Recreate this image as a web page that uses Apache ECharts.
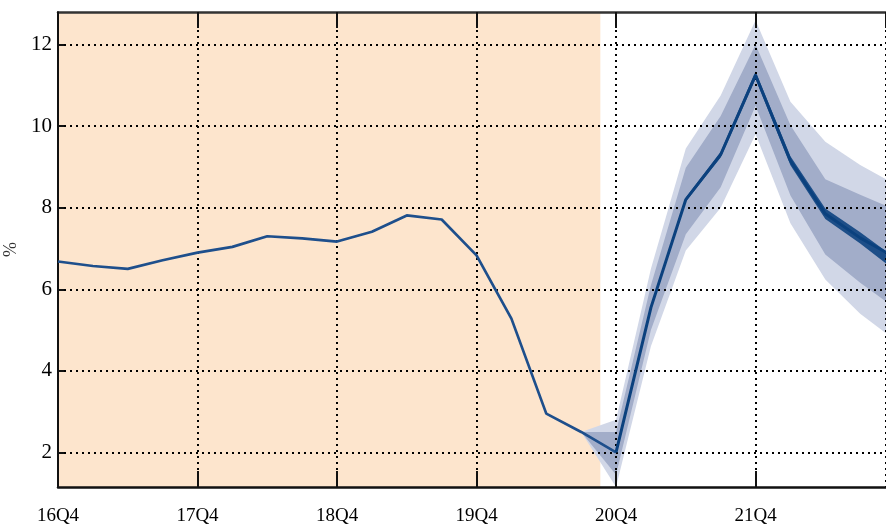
<!DOCTYPE html>
<html>
<head>
<meta charset="utf-8">
<script src="https://cdn.jsdelivr.net/npm/echarts@6/dist/echarts.min.js"></script>
<style>html,body{margin:0;padding:0;background:#fff}#c{width:886px;height:530px}</style>
</head>
<body>
<div id="c"></div>
<script>
// Quarters (x index = position in this list)
const quarters = ['16Q4','17Q1','17Q2','17Q3','17Q4','18Q1','18Q2','18Q3','18Q4','19Q1','19Q2','19Q3','19Q4','20Q1','20Q2','20Q3','20Q4','21Q1','21Q2','21Q3','21Q4','22Q1','22Q2','22Q3','22Q4'];
const xTickLabels = ['16Q4','17Q4','18Q4','19Q4','20Q4','21Q4'];
const yTickValues = [2,4,6,8,10,12];

// Historical series (16Q4 .. 20Q4)
const history = [6.68,6.57,6.5,6.71,6.9,7.04,7.3,7.25,7.17,7.41,7.81,7.71,6.83,5.28,2.95,2.5,2.0];

// Forecast fan (20Q3 .. 22Q4)
const fanQuarters = ['20Q3','20Q4','21Q1','21Q2','21Q3','21Q4','22Q1','22Q2','22Q3','22Q4'];
const central   = [2.5, 2.0, 5.55, 8.2, 9.3, 11.25, 9.15, 7.85, 7.26, 6.78];
const innerHigh = [2.5, 2.0, 5.57, 8.25, 9.37, 11.34, 9.26, 7.98, 7.40, 6.93];
const innerLow  = [2.5, 2.0, 5.53, 8.15, 9.23, 11.16, 9.04, 7.72, 7.12, 6.63];
const midHigh   = [2.5, 2.5, 6.1, 8.98, 10.25, 12.0, 10.02, 8.7, 8.32, 8.05];
const midLow    = [2.5, 1.45, 5.0, 7.35, 8.5, 10.5, 8.3, 6.85, 6.16, 5.7];
const outerHigh = [2.5, 2.8, 6.5, 9.45, 10.75, 12.6, 10.6, 9.62, 9.05, 8.7];
const outerLow  = [2.5, 1.1, 4.6, 6.95, 8.0, 9.8, 7.62, 6.24, 5.4, 4.92];

// Shaded "history" period (x index range)
const shadeRange = [0, 15.55];

const qi = q => quarters.indexOf(q);
const histData = history.map((v, i) => [i, v]);
const fanX = fanQuarters.map(qi);
const pairs = arr => arr.map((v, i) => [fanX[i], v]);

const bands = [
  { lo: outerLow, hi: outerHigh, color: '#d1d7e7' },
  { lo: midLow,   hi: midHigh,   color: '#a2adc9' },
  { lo: innerLow, hi: innerHigh, color: '#1d4e88' }
];

function renderBand(params, api) {
  const b = bands[params.dataIndex];
  const pts = [];
  for (let i = 0; i < fanX.length; i++) pts.push(api.coord([fanX[i], b.hi[i]]));
  for (let i = fanX.length - 1; i >= 0; i--) pts.push(api.coord([fanX[i], b.lo[i]]));
  const cs = params.coordSys;
  const clipped = echarts.graphic.clipPointsByRect(pts, { x: cs.x, y: cs.y, width: cs.width, height: cs.height });
  return { type: 'polygon', shape: { points: clipped }, style: { fill: b.color } };
}

const gridDash = { color: '#000', width: 2, type: [2, 4] };
const font = 'Liberation Serif';

const chart = echarts.init(document.getElementById('c'), null, { renderer: 'canvas' });
chart.setOption({
  animation: false,
  backgroundColor: '#fff',
  grid: { left: 58, right: 0, top: 12, bottom: 43, containLabel: false, outerBoundsMode: 'none' },
  xAxis: [
    { type: 'value', min: 0, max: 23.74, interval: 4, position: 'bottom', z: 1.5,
      axisLine: { show: true, onZero: false, lineStyle: { color: '#111', width: 2.5 } },
      axisTick: { show: true, inside: true, length: 16, lineStyle: { color: '#111', width: 2 } },
      axisLabel: { show: true, margin: 20, fontFamily: font, fontSize: 19, color: '#000',
        formatter: v => xTickLabels[Math.round(v / 4)] || '', showMaxLabel: false },
      splitLine: { show: true, lineStyle: gridDash } },
    { type: 'value', min: 0, max: 23.74, interval: 4, position: 'top', z: 1.5,
      axisLine: { show: true, onZero: false, lineStyle: { color: '#333', width: 2.5 } },
      axisTick: { show: true, inside: true, length: 16, lineStyle: { color: '#111', width: 2 } },
      axisLabel: { show: false }, splitLine: { show: false } }
  ],
  yAxis: {
    type: 'value', min: 1.15, max: 12.8, z: 1.5,
    name: '%', nameLocation: 'middle', nameGap: 34, nameRotate: 90,
    nameTextStyle: { fontFamily: font, fontSize: 18, color: '#333' },
    axisLine: { show: true, onZero: false, lineStyle: { color: '#111', width: 2 } },
    axisTick: { show: true, inside: true, length: 6, customValues: yTickValues, lineStyle: { color: '#111', width: 2 } },
    axisLabel: { margin: 6, fontFamily: font, fontSize: 21, color: '#000', customValues: yTickValues },
    splitLine: { show: true, lineStyle: gridDash }
  },
  series: [
    { name: 'shade', type: 'line', data: [], z: 1, silent: true,
      markArea: { silent: true, itemStyle: { color: '#fde5cd' },
        data: [[{ xAxis: shadeRange[0] }, { xAxis: shadeRange[1] }]] } },
    { name: 'fan', type: 'custom', data: bands.map((b, i) => [i]), renderItem: renderBand,
      silent: true, z: 1.2 },
    { name: 'history', type: 'line', data: histData, symbol: 'none', z: 2,
      lineStyle: { color: '#1e4f8c', width: 2.7 } },
    { name: 'central', type: 'line', data: pairs(central).slice(1), symbol: 'none', z: 2,
      lineStyle: { color: '#0b417e', width: 3 } }
  ]
});
</script>
</body>
</html>
